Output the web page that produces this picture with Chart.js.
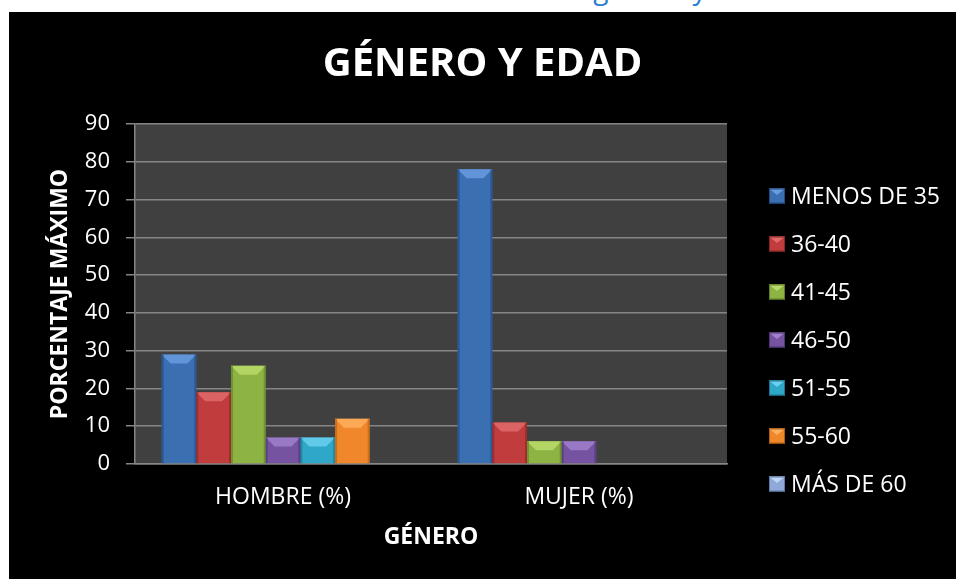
<!DOCTYPE html>
<html><head><meta charset="utf-8">
<script src="https://cdn.jsdelivr.net/npm/chart.js@4.4.1/dist/chart.umd.min.js"></script>
<style>
html,body{margin:0;padding:0;background:#fff;width:956px;height:579px;overflow:hidden;font-family:'Open Sans',sans-serif;}
#cap{position:absolute;left:0;width:990px;top:-26px;text-align:center;font-size:28px;line-height:28px;color:#2a7fd4;white-space:nowrap;}
#box{position:absolute;left:9px;top:12px;width:947px;height:567px;background:#000;}
canvas{display:block}
</style></head><body>
<div id="cap">Gráfico No. 1 Distribución de género y edad</div>
<div id="box"><canvas id="c" width="947" height="567"></canvas></div>
<script>
const categories = ['HOMBRE (%)', 'MUJER (%)'];
const seriesNames = ['MENOS DE 35', '36-40', '41-45', '46-50', '51-55', '55-60', 'MÁS DE 60'];
const menos35 = [29, 78];
const s36_40 = [19, 11];
const s41_45 = [26, 6];
const s46_50 = [7, 6];
const s51_55 = [7, 0];
const s55_60 = [12, 0];
const mas60 = [0, 0];
const yTickValues = [0, 10, 20, 30, 40, 50, 60, 70, 80, 90];

const seriesValues = [menos35, s36_40, s41_45, s46_50, s51_55, s55_60, mas60];
const colors = ['#3a6fb2', '#c03c3d', '#8db343', '#7553a1', '#2fa7c9', '#f0872a', '#8fa9d8'];
const tops = ['#6a9be0', '#e06a6a', '#b8da6a', '#a080cc', '#6ad0ee', '#ffb060', '#c0d4f4'];
const borders = ['#1f4a80', '#8a2426', '#5f7d26', '#4d3570', '#1a7590', '#b05e14', '#5f7aa8'];

Chart.defaults.font.family = "'Open Sans', sans-serif";
Chart.defaults.color = '#ffffff';

const bgPlugin = {
  id: 'plotBg',
  beforeDraw(chart) {
    const a = chart.chartArea, ctx = chart.ctx;
    ctx.save();
    ctx.fillStyle = '#404040';
    ctx.fillRect(a.left, a.top, a.right - a.left, a.bottom - a.top);
    ctx.restore();
  }
};

const bevelPlugin = {
  id: 'bevel',
  afterDatasetsDraw(chart) {
    const ctx = chart.ctx;
    ctx.save();
    chart.data.datasets.forEach((ds, i) => {
      chart.getDatasetMeta(i).data.forEach(bar => {
        const h = bar.base - bar.y;
        if (h < 2) return;
        const l = bar.x - bar.width / 2, r = bar.x + bar.width / 2, t = bar.y;
        const b = Math.min(9, h / 2);
        ctx.fillStyle = tops[i];
        ctx.globalAlpha = 0.85;
        ctx.beginPath();
        ctx.moveTo(l, t); ctx.lineTo(r, t); ctx.lineTo(r - b, t + b); ctx.lineTo(l + b, t + b); ctx.closePath();
        ctx.fill();
        ctx.globalAlpha = 0.6;
        ctx.fillStyle = borders[i];
        ctx.fillRect(l, t, 2, h);
        ctx.fillRect(r - 2, t, 2, h);
      });
    });
    ctx.restore();
  }
};

const legendPlugin = {
  id: 'sideLegend',
  afterDraw(chart) {
    const ctx = chart.ctx, a = chart.chartArea;
    ctx.save();
    ctx.font = "23px 'Open Sans', sans-serif";
    ctx.textBaseline = 'middle';
    ctx.textAlign = 'left';
    chart.data.datasets.forEach((ds, i) => {
      const cy = 184 + i * 48;
      const bx = a.right + 42;
      ctx.fillStyle = ds.backgroundColor;
      ctx.fillRect(bx, cy - 7.5, 16, 15);
      ctx.fillStyle = tops[i];
      ctx.beginPath();
      ctx.moveTo(bx, cy - 7.5); ctx.lineTo(bx + 16, cy - 7.5); ctx.lineTo(bx + 8, cy - 1); ctx.closePath();
      ctx.fill();
      ctx.strokeStyle = ds.borderColor;
      ctx.lineWidth = 1;
      ctx.strokeRect(bx + 0.5, cy - 7, 15, 14);
      ctx.fillStyle = '#ffffff';
      ctx.fillText(ds.label, bx + 22, cy + 1);
    });
    ctx.restore();
  }
};

new Chart(document.getElementById('c'), {
  type: 'bar',
  data: {
    labels: categories,
    datasets: seriesNames.map((n, i) => ({
      label: n,
      data: seriesValues[i],
      backgroundColor: colors[i],
      borderColor: borders[i],
      borderWidth: 0,
      barPercentage: 1.0,
      categoryPercentage: 0.82
    }))
  },
  options: {
    responsive: false,
    animation: false,
    layout: { padding: 0 },
    plugins: {
      legend: { display: false },
      tooltip: { enabled: false },
      title: {
        display: true,
        text: 'GÉNERO Y EDAD',
        color: '#ffffff',
        font: { size: 40, weight: 'bold' },
        padding: { top: 29, bottom: 35 }
      }
    },
    scales: {
      x: {
        afterFit(s) { s.height = 115; },
        grid: { display: false, drawTicks: false },
        border: { display: true, color: '#858585', width: 1.5 },
        ticks: { color: '#ffffff', font: { size: 23 }, padding: 20 },
        title: { display: true, text: 'GÉNERO', color: '#ffffff', font: { size: 23, weight: 'bold' }, padding: { top: 0, bottom: 28 } }
      },
      y: {
        min: 0, max: 90,
        afterFit(s) { s.width = 126; },
        afterBuildTicks(s) { s.ticks = yTickValues.map(v => ({ value: v })); },
        grid: { color: '#858585', lineWidth: 1.5, tickLength: 9, drawTicks: true },
        border: { display: true, color: '#858585', width: 1.5 },
        ticks: { color: '#ffffff', font: { size: 22 }, padding: 16 },
        title: { display: true, text: 'PORCENTAJE MÁXIMO', color: '#ffffff', font: { size: 23, weight: 'bold' }, padding: { top: 38, bottom: 0 } }
      },
      legendSpace: {
        position: 'right',
        display: true,
        min: 0, max: 90,
        afterFit(s) { s.width = 229; },
        grid: { display: false, drawTicks: false },
        border: { display: false },
        ticks: { display: false }
      }
    }
  },
  plugins: [bgPlugin, bevelPlugin, legendPlugin]
});
</script>
</body></html>
